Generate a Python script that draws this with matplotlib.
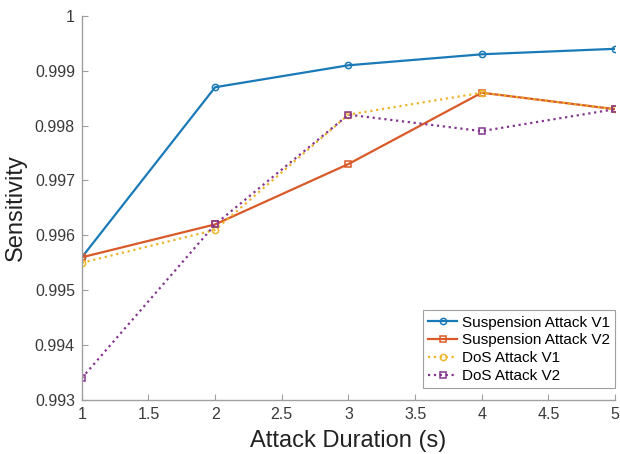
import matplotlib
matplotlib.use("Agg")
import matplotlib.pyplot as plt

plt.rcParams["font.family"] = ["Liberation Sans", "DejaVu Sans"]

durations = [1, 2, 3, 4, 5]
susp_v1 = [0.9956, 0.9987, 0.9991, 0.9993, 0.9994]
susp_v2 = [0.9956, 0.9962, 0.9973, 0.9986, 0.9983]
dos_v1 = [0.9955, 0.9961, 0.9982, 0.9986, 0.9983]
dos_v2 = [0.9934, 0.9962, 0.9982, 0.9979, 0.9983]

x_ticks = [1, 1.5, 2, 2.5, 3, 3.5, 4, 4.5, 5]
x_tick_labels = ["1", "1.5", "2", "2.5", "3", "3.5", "4", "4.5", "5"]
y_ticks = [0.993, 0.994, 0.995, 0.996, 0.997, 0.998, 0.999, 1.0]
y_tick_labels = ["0.993", "0.994", "0.995", "0.996", "0.997", "0.998", "0.999", "1"]

fig = plt.figure(figsize=(6.2, 4.54), dpi=100)
ax = fig.add_axes([0.132, 0.119, 0.860, 0.846])

series = [
    (susp_v1, "#1a7ab8", "-", "o", "Suspension Attack V1"),
    (susp_v2, "#d95a28", "-", "s", "Suspension Attack V2"),
    (dos_v1, "#edb52a", ":", "o", "DoS Attack V1"),
    (dos_v2, "#84358f", ":", "s", "DoS Attack V2"),
]
for vals, color, ls, mk, label in series:
    ax.plot(durations, vals, color=color, linestyle=ls, linewidth=1.6,
            marker=mk, markersize=4.5, markerfacecolor="none",
            markeredgewidth=1.1, label=label)

ax.set_xlim(1, 5)
ax.set_ylim(0.993, 1.0)
ax.set_xticks(x_ticks)
ax.set_xticklabels(x_tick_labels)
ax.set_yticks(y_ticks)
ax.set_yticklabels(y_tick_labels)

for side in ("top", "right"):
    ax.spines[side].set_visible(False)
for side in ("left", "bottom"):
    ax.spines[side].set_color("#a0a0a0")
    ax.spines[side].set_linewidth(1.0)
ax.tick_params(direction="in", length=4, colors="#a0a0a0", labelcolor="#3a3a3a",
               labelsize=11.5, pad=5)

ax.set_xlabel("Attack Duration (s)", fontsize=17, color="#222222", labelpad=6)
ax.set_ylabel("Sensitivity", fontsize=17, color="#222222", labelpad=6)

leg = ax.legend(loc="lower right", bbox_to_anchor=(1.0, 0.03), fontsize=11,
                frameon=True, fancybox=False, handlelength=1.9, borderpad=0.35,
                labelspacing=0.25, borderaxespad=0.0, handletextpad=0.3)
leg.get_frame().set_edgecolor("#888888")
leg.get_frame().set_linewidth(0.8)

fig.savefig("out.png", dpi=100)
